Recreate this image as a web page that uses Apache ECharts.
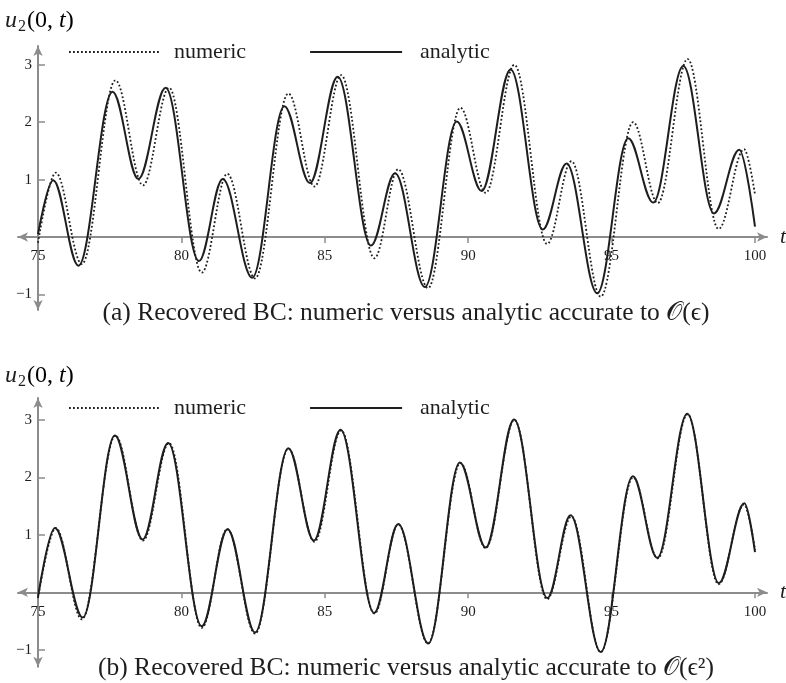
<!DOCTYPE html>
<html>
<head>
<meta charset="utf-8">
<title>u2(0,t) recovered BC</title>
<script src="https://cdn.jsdelivr.net/npm/echarts@6/dist/echarts.min.js"></script>
<style>
    html, body { margin: 0; padding: 0; background: #fff; }
    #main { width: 786px; height: 683px; }
</style>
</head>
<body>
<div id="main"></div>
<script>
// 刻度
var xTicks = [75, 80, 85, 90, 95, 100];
var yTicks = [-1, 1, 2, 3];

// numeric 解 (两个图共用)，取极值点 [t, u]
var numeric = [
    [75.00, -0.10], [75.62, 1.12], [76.53, -0.47], [77.70, 2.73], [78.66, 0.90],
    [79.57, 2.60], [80.71, -0.62], [81.60, 1.10], [82.57, -0.72], [83.73, 2.50],
    [84.64, 0.88], [85.57, 2.82], [86.73, -0.37], [87.56, 1.18], [88.60, -0.89],
    [89.73, 2.25], [90.61, 0.77], [91.61, 3.00], [92.75, -0.12], [93.60, 1.32],
    [94.62, -1.04], [95.75, 2.00], [96.61, 0.59], [97.65, 3.10], [98.73, 0.14],
    [99.62, 1.53], [100.00, 0.74]
];

// (a) analytic, O(eps)
var analyticA = [
    [75.00, 0.05], [75.53, 0.99], [76.41, -0.50], [77.60, 2.53], [78.50, 1.01],
    [79.45, 2.60], [80.61, -0.42], [81.44, 1.01], [82.47, -0.71], [83.59, 2.28],
    [84.48, 0.94], [85.45, 2.79], [86.61, -0.15], [87.45, 1.11], [88.49, -0.87],
    [89.60, 2.01], [90.47, 0.80], [91.48, 2.92], [92.60, 0.13], [93.43, 1.28],
    [94.50, -0.98], [95.58, 1.72], [96.45, 0.60], [97.50, 2.98], [98.57, 0.41],
    [99.45, 1.52], [100.00, 0.18]
];

// (b) analytic, O(eps^2)
var analyticB = [
    [75.00, -0.08], [75.59, 1.12], [76.56, -0.44], [77.68, 2.73], [78.65, 0.92],
    [79.54, 2.60], [80.71, -0.59], [81.61, 1.10], [82.57, -0.70], [83.73, 2.51],
    [84.62, 0.90], [85.55, 2.83], [86.72, -0.36], [87.56, 1.19], [88.61, -0.89],
    [89.71, 2.26], [90.61, 0.78], [91.60, 3.01], [92.76, -0.10], [93.57, 1.34],
    [94.62, -1.04], [95.74, 2.02], [96.59, 0.60], [97.64, 3.11], [98.74, 0.16],
    [99.63, 1.55], [100.00, 0.70]
];

(function () {
    var serif = '"Liberation Serif", "DejaVu Serif", serif';
    var ink = '#1e1e1e';
    var axisGray = '#8c8c8c';

    // 横轴范围：让箭头伸出 75 和 100 之外
    var xMin = 74.3027, xMax = 100.4184;
    var yRange = [[-1.2718, 3.3275], [-1.2955, 3.3833]];
    // 横轴从底边上移到 u = 0 处的距离 (px)
    var xShift = [73, 74.4];

    function makeX(gi) {
        return {
            type: 'value',
            gridIndex: gi,
            min: xMin,
            max: xMax,
            position: 'bottom',
            offset: -xShift[gi],
            name: 't',
            nameLocation: 'end',
            nameGap: 13,
            nameTextStyle: { fontFamily: serif, fontStyle: 'italic', fontSize: 22, color: ink },
            axisLine: {
                show: true,
                onZero: false,
                symbol: ['arrow', 'arrow'],
                symbolSize: [7, 10],
                lineStyle: { color: axisGray, width: 2 }
            },
            axisTick: {
                show: true,
                inside: false,
                length: 6,
                customValues: xTicks,
                lineStyle: { color: axisGray, width: 1.5 }
            },
            axisLabel: {
                customValues: xTicks,
                margin: 12,
                fontFamily: serif,
                fontSize: 15,
                color: ink
            },
            splitLine: { show: false }
        };
    }

    function makeY(gi) {
        return {
            type: 'value',
            gridIndex: gi,
            min: yRange[gi][0],
            max: yRange[gi][1],
            offset: -20, // 纵轴放在 t = 75 处
            axisLine: {
                show: true,
                onZero: false,
                symbol: ['arrow', 'arrow'],
                symbolSize: [7, 10],
                lineStyle: { color: axisGray, width: 2 }
            },
            axisTick: {
                show: true,
                inside: true,
                length: 7,
                customValues: yTicks,
                lineStyle: { color: axisGray, width: 1.5 }
            },
            axisLabel: {
                customValues: yTicks,
                margin: 6,
                fontFamily: serif,
                fontSize: 15,
                color: ink,
                formatter: function (v) {
                    return String(v).replace('-', '\u2212');
                }
            },
            splitLine: { show: false }
        };
    }

    function makeLine(name, data, gi, dotted) {
        return {
            name: name,
            type: 'line',
            xAxisIndex: gi,
            yAxisIndex: gi,
            data: data,
            symbol: 'none',
            smooth: 0.36,
            smoothMonotone: 'x',
            silent: true,
            lineStyle: {
                color: ink,
                width: dotted ? 1.8 : 2,
                type: dotted ? [1.8, 2.2] : 'solid'
            }
        };
    }

    function makeLegend(top) {
        return {
            left: 68,
            top: top,
            padding: 0,
            itemWidth: 92,
            itemHeight: 14,
            itemGap: 63,
            selectedMode: false,
            itemStyle: { opacity: 0 },
            data: [
                { name: 'numeric' },
                { name: 'analytic', textStyle: { padding: [0, 0, 0, 13] } }
            ],
            textStyle: {
                fontFamily: serif,
                fontSize: 22,
                color: ink,
                padding: [0, 0, 0, 8]
            }
        };
    }

    // 纵轴名字 u2(0,t)
    function yName(top) {
        return [{
            type: 'text',
            x: 5,
            y: top,
            style: { text: 'u', font: 'italic 24px ' + serif, fill: ink }
        }, {
            type: 'text',
            x: 18,
            y: top + 10,
            style: { text: '2', font: '16px ' + serif, fill: ink }
        }, {
            type: 'text',
            x: 27,
            y: top,
            style: {
                text: '{n|(0, }{i|t}{n|)}',
                rich: {
                    n: { fontFamily: serif, fontSize: 24, color: ink },
                    i: { fontFamily: serif, fontSize: 24, fontStyle: 'italic', color: ink }
                }
            }
        }];
    }

    function caption(text, y) {
        return {
            type: 'text',
            x: 406,
            y: y,
            style: {
                text: text,
                font: '25.5px ' + serif,
                fill: ink,
                align: 'center',
                verticalAlign: 'middle'
            }
        };
    }

    var myChart = echarts.init(document.getElementById('main'), null, { renderer: 'canvas' });
    var option = {
        backgroundColor: '#fff',
        animation: false,
        grid: [
            { left: 18, width: 749, top: 46, height: 264, outerBoundsMode: 'none' },
            { left: 18, width: 749, top: 398, height: 268.7, outerBoundsMode: 'none' }
        ],
        legend: [makeLegend(41), makeLegend(397)],
        xAxis: [makeX(0), makeX(1)],
        yAxis: [makeY(0), makeY(1)],
        series: [
            makeLine('numeric', numeric, 0, true),
            makeLine('analytic', analyticA, 0, false),
            makeLine('numeric', numeric, 1, true),
            makeLine('analytic', analyticB, 1, false)
        ],
        graphic: yName(9)
            .concat(yName(364))
            .concat([
                caption('(a) Recovered BC: numeric versus analytic accurate to \uD835\uDCAA(\u03F5)', 313),
                caption('(b) Recovered BC: numeric versus analytic accurate to \uD835\uDCAA(\u03F5\u00B2)', 668)
            ])
    };
    myChart.setOption(option);
    window.addEventListener('resize', function () {
        myChart.resize();
    });
})();
</script>
</body>
</html>
